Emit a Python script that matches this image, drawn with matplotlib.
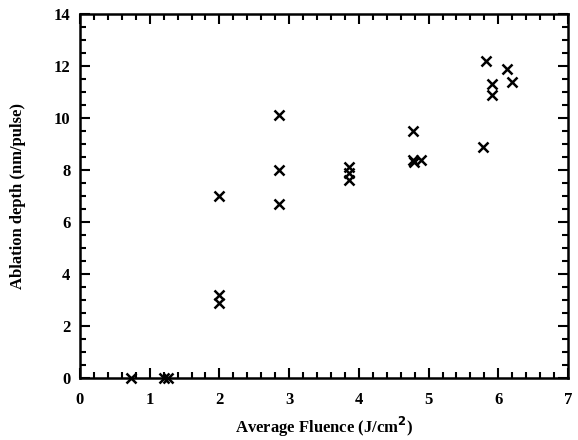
import numpy as np
import matplotlib.pyplot as plt
from matplotlib.ticker import MultipleLocator

# fluence (J/cm^2) and ablation depth (nm/pulse)
fluence = [0.73, 1.21, 1.26,
           2.0, 2.0, 2.0,
           2.85, 2.85, 2.85,
           3.86, 3.86, 3.86,
           4.78, 4.78, 4.79, 4.89,
           5.78, 5.83, 5.91, 5.91, 6.13, 6.2]
depth = [0.0, 0.0, 0.0,
         7.0, 3.2, 2.9,
         10.1, 8.0, 6.7,
         8.1, 7.9, 7.6,
         9.5, 8.4, 8.3, 8.4,
         8.9, 12.2, 11.3, 10.9, 11.9, 11.4]

plt.rcParams['font.family'] = 'Liberation Serif'
plt.rcParams['font.weight'] = 'bold'

fig = plt.figure(figsize=(5.78, 4.4), dpi=100)
ax = fig.add_axes([80/578, 1 - 378/440, 488/578, 364/440])

ax.plot(fluence, depth, 'x', color='black', markersize=7, mew=1.8, clip_on=False)

ax.set_xlim(0, 7)
ax.set_ylim(0, 14)
ax.xaxis.set_major_locator(MultipleLocator(1))
ax.xaxis.set_minor_locator(MultipleLocator(0.2))
ax.yaxis.set_major_locator(MultipleLocator(2))
ax.yaxis.set_minor_locator(MultipleLocator(0.5))
ax.tick_params(which='both', direction='in', top=True, right=True, width=1.5, labelsize=12)
ax.tick_params(which='major', length=7, pad=7)
ax.tick_params(axis='x', which='major', pad=10)
ax.tick_params(which='minor', length=4)
for s in ax.spines.values():
    s.set_linewidth(1.8)

ax.set_xlabel('Average Fluence (J/cm$^{\\mathbf{2}}$)', fontsize=12, fontweight='bold', labelpad=5)
ax.set_ylabel('Ablation depth (nm/pulse)', fontsize=12, fontweight='bold', labelpad=20)

fig.savefig('out.png', dpi=100)
